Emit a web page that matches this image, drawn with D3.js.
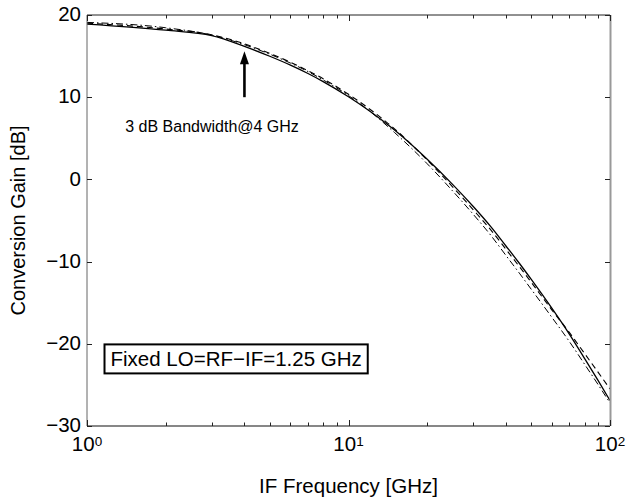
<!DOCTYPE html>
<html>
<head>
<meta charset="utf-8">
<script src="https://cdn.jsdelivr.net/npm/d3@7"></script>
<style>
  body { margin: 0; background: #fff; }
  svg { display: block; font-family: Arial, "Liberation Sans", Helvetica, sans-serif; }
</style>
</head>
<body>
<div id="chart"></div>
<script>
// IF frequency points (GHz)
const freqs = [1, 2, 3, 4, 5, 6, 7, 8, 10, 12, 15, 20, 25, 30, 35, 40, 45, 50, 60, 70, 80, 90, 100];

// Conversion gain (dB) for the three curves
const gainSolid   = [18.9, 18.15, 17.5, 16.19, 14.98, 13.9, 12.88, 11.9, 10.05, 8.35, 6.0, 2.45, -0.6, -3.3, -5.75, -8.1, -10.2, -12.17, -15.7, -18.85, -21.8, -24.45, -26.9];
const gainDashed  = [19.0, 18.3, 17.6, 16.49, 15.33, 14.25, 13.22, 12.24, 10.35, 8.6, 6.15, 2.35, -0.9, -3.7, -6.15, -8.5, -10.6, -12.52, -15.9, -18.65, -21.2, -23.45, -25.5];
const gainDashDot = [19.1, 18.45, 17.55, 16.39, 15.23, 14.15, 13.12, 12.1, 10.2, 8.35, 5.7, 1.9, -1.4, -4.25, -6.8, -9.25, -11.4, -13.37, -16.8, -19.75, -22.5, -24.95, -27.2];

// Axis ticks
const yTicks = [-30, -20, -10, 0, 10, 20];
const xMajor = [1, 10, 100];
const xExp = ['0', '1', '2'];
const xMinor = [2, 3, 4, 5, 6, 7, 8, 9, 20, 30, 40, 50, 60, 70, 80, 90];

// Annotations
const bwFreq = 4;        // 3 dB bandwidth marker
const arrowFrom = 10;
const arrowTo = 15.6;
const bwLabel = '3 dB Bandwidth@4 GHz';
const bwLabelPos = [1.4, 5.8];
const boxLabel = 'Fixed LO=RF\u2212IF=1.25 GHz';
const boxLabelPos = [1.23, -22.75];

const W = 626, H = 499;
const margin = { top: 15, right: 16, bottom: 73, left: 87 };
const width = W - margin.left - margin.right;
const height = H - margin.top - margin.bottom;

const svg = d3.select('#chart').append('svg')
    .attr('width', W)
    .attr('height', H);

const g = svg.append('g')
    .attr('transform', `translate(${margin.left},${margin.top})`);

const x = d3.scaleLog().domain([1, 100]).range([0, width]);
const y = d3.scaleLinear().domain([-30, 20]).range([height, 0]);

// Curves
const series = [
    { values: gainSolid, dash: null, w: 1.3 },
    { values: gainDashed, dash: '6,4', w: 1.1 },
    { values: gainDashDot, dash: '7,3,1.5,3', w: 1.0 }
];

const line = d3.line()
    .x(d => x(d[0]))
    .y(d => y(d[1]))
    .curve(d3.curveMonotoneX);

series.forEach(s => {
    g.append('path')
        .datum(freqs.map((f, i) => [f, s.values[i]]))
        .attr('fill', 'none')
        .attr('stroke', '#000')
        .attr('stroke-width', s.w)
        .attr('stroke-dasharray', s.dash)
        .attr('d', line);
});

// Frame
g.append('line').attr('x1', 0).attr('x2', width).attr('y1', height).attr('y2', height)
    .attr('stroke', '#111').attr('stroke-width', 1.2);
g.append('line').attr('x1', 0).attr('x2', width).attr('y1', 0).attr('y2', 0)
    .attr('stroke', '#222').attr('stroke-width', 1);
g.append('line').attr('x1', 0).attr('x2', 0).attr('y1', 0).attr('y2', height)
    .attr('stroke', '#666').attr('stroke-width', 1);
g.append('line').attr('x1', width + 0.5).attr('x2', width + 0.5).attr('y1', 0).attr('y2', height)
    .attr('stroke', '#999').attr('stroke-width', 2);

// Inward ticks on all four sides (MATLAB box style)
const tickG = g.append('g').attr('stroke', '#222').attr('stroke-width', 1);
xMajor.concat(xMinor).forEach(v => {
    const len = xMajor.includes(v) ? 6 : 3.5;
    const px = Math.round(x(v)) + 0.5;
    tickG.append('line').attr('x1', px).attr('x2', px).attr('y1', height).attr('y2', height - len);
    tickG.append('line').attr('x1', px).attr('x2', px).attr('y1', 0).attr('y2', len);
});
yTicks.forEach(v => {
    const py = Math.round(y(v)) + 0.5;
    tickG.append('line').attr('x1', 0).attr('x2', 5).attr('y1', py).attr('y2', py);
    tickG.append('line').attr('x1', width).attr('x2', width - 5).attr('y1', py).attr('y2', py);
});

// Y tick labels
g.selectAll('.ylab')
    .data(yTicks)
    .enter()
    .append('text')
    .attr('class', 'ylab')
    .attr('x', -6)
    .attr('y', d => y(d))
    .attr('dy', '0.3em')
    .attr('text-anchor', 'end')
    .attr('font-size', 20.5)
    .text(d => d < 0 ? '\u2212' + Math.abs(d) : d);

// X tick labels: 10 with superscript exponent
xMajor.forEach((v, i) => {
    const t = g.append('text')
        .attr('x', x(v))
        .attr('y', height + 25)
        .attr('text-anchor', 'middle')
        .attr('font-size', 20.5);
    t.append('tspan').text('10');
    t.append('tspan').attr('dy', -5).attr('font-size', 13.5).text(xExp[i]);
});

// Axis titles
g.append('text')
    .attr('x', width / 2)
    .attr('y', height + 67)
    .attr('text-anchor', 'middle')
    .attr('font-size', 20.5)
    .text('IF Frequency [GHz]');

g.append('text')
    .attr('transform', `translate(${-62},${height / 2}) rotate(-90)`)
    .attr('text-anchor', 'middle')
    .attr('font-size', 20)
    .text('Conversion Gain [dB]');

// Bandwidth arrow
const ax = x(bwFreq);
g.append('line')
    .attr('x1', ax).attr('x2', ax)
    .attr('y1', y(arrowFrom)).attr('y2', y(arrowTo) + 10)
    .attr('stroke', '#000').attr('stroke-width', 2.6);
g.append('path')
    .attr('d', `M${ax},${y(arrowTo)} L${ax - 4.5},${y(arrowTo) + 13} L${ax + 4.5},${y(arrowTo) + 13} Z`)
    .attr('fill', '#000');

g.append('text')
    .attr('x', x(bwLabelPos[0]))
    .attr('y', y(bwLabelPos[1]))
    .attr('font-size', 16)
    .text(bwLabel);

// Boxed note
const note = g.append('text')
    .attr('x', x(boxLabelPos[0]))
    .attr('y', y(boxLabelPos[1]))
    .attr('font-size', 20.5)
    .text(boxLabel);
const bb = note.node().getBBox();
g.insert('rect', 'text')
    .attr('x', bb.x - 6)
    .attr('y', bb.y - 3)
    .attr('width', bb.width + 12)
    .attr('height', bb.height + 6)
    .attr('fill', '#fff')
    .attr('stroke', '#000')
    .attr('stroke-width', 2);
</script>
</body>
</html>
